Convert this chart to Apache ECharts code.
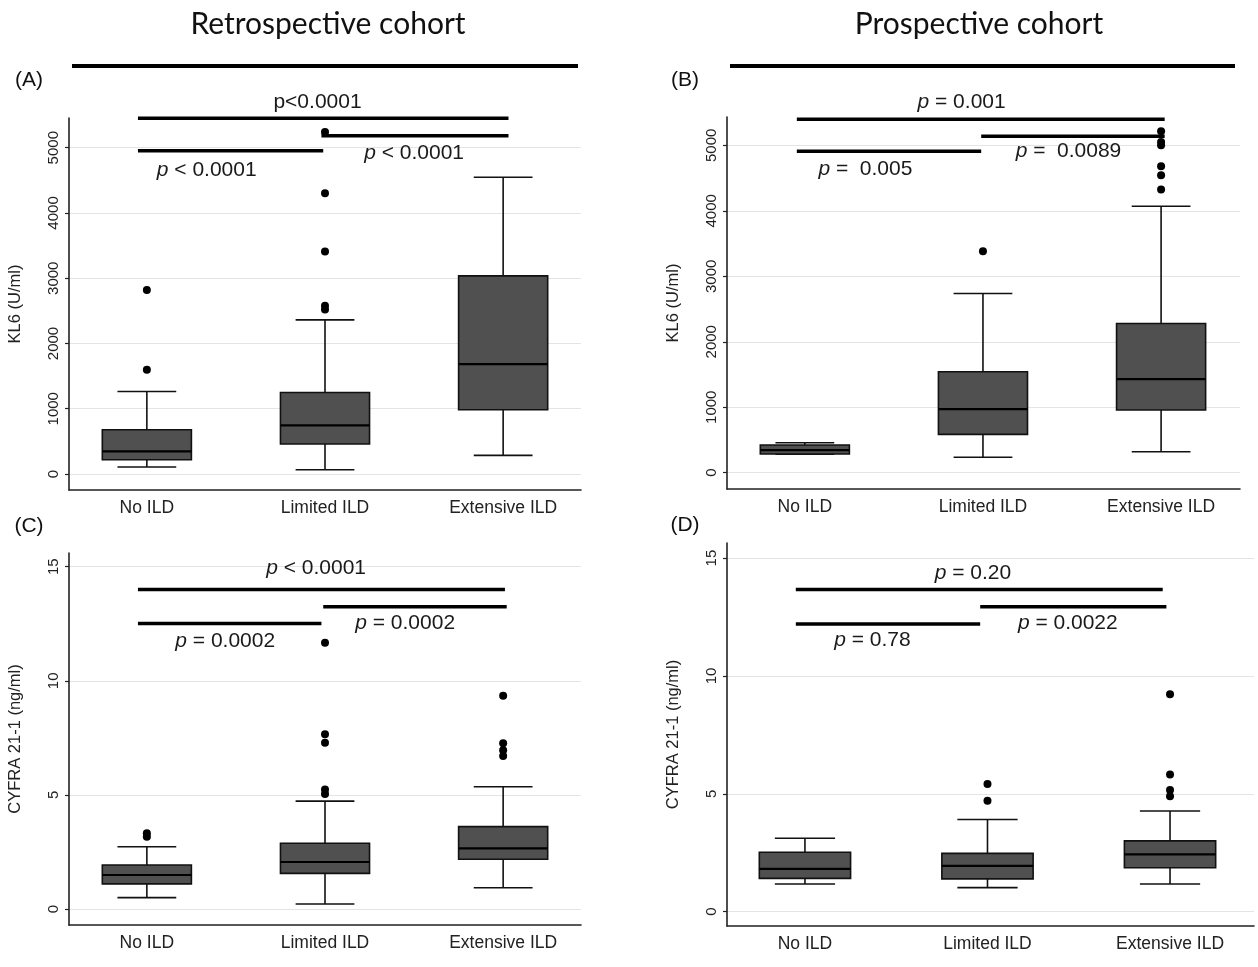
<!DOCTYPE html>
<html>
<head>
<meta charset="utf-8">
<script src="https://cdn.jsdelivr.net/npm/echarts@6/dist/echarts.min.js"></script>
<style>html,body{margin:0;padding:0;background:#fff}#c{width:1258px;height:967px}</style>
</head>
<body>
<div id="c"></div>
<script>
// ---------- data ----------
const categories = ['No ILD', 'Limited ILD', 'Extensive ILD'];
const kl6TickValues = [0, 1000, 2000, 3000, 4000, 5000];
const cyfraTickValues = [0, 5, 10, 15];

// box stats: [min, Q1, median, Q3, max] per category
const kl6Retro = [[107, 219, 346, 678, 1265], [66, 459, 744, 1250, 2362], [285, 984, 1684, 3036, 4547]];
const kl6RetroOutliers = [[0, 2821], [0, 1597], [1, 5240], [1, 4302], [1, 3408], [1, 2580], [1, 2520]];

const kl6Pro = [[282, 285, 346, 423, 458], [235, 586, 972, 1541, 2738], [320, 957, 1430, 2280, 4070]];
const kl6ProOutliers = [[1, 3383], [2, 5214], [2, 5051], [2, 5000], [2, 4680], [2, 4543], [2, 4325]];

const cyfraRetro = [[0.50, 1.10, 1.49, 1.93, 2.73], [0.22, 1.56, 2.06, 2.88, 4.73], [0.93, 2.18, 2.66, 3.61, 5.36]];
const cyfraRetroOutliers = [[0, 3.32], [0, 3.17], [1, 11.67], [1, 7.66], [1, 7.29], [1, 5.24], [1, 5.04], [2, 9.34], [2, 7.26], [2, 6.96], [2, 6.70]];

const cyfraPro = [[1.17, 1.41, 1.81, 2.52, 3.11], [1.02, 1.39, 1.94, 2.47, 3.91], [1.17, 1.86, 2.43, 3.00, 4.27]];
const cyfraProOutliers = [[1, 5.41], [1, 4.70], [2, 9.22], [2, 5.82], [2, 5.16], [2, 4.90]];

// significance bars: [from, to, level]
const barsA = [[0.95, 3.03, 5450], [1.98, 3.03, 5184], [0.95, 1.99, 4954]];
const barsB = [[0.955, 3.02, 5398], [1.99, 3.02, 5138], [0.955, 1.99, 4909]];
const barsC = [[0.95, 3.01, 14.0], [1.99, 3.02, 13.24], [0.95, 1.98, 12.51]];
const barsD = [[0.95, 2.96, 13.67], [1.96, 2.98, 12.94], [0.95, 1.96, 12.2]];
// p-value labels: [x, y, text]
const pA = [[1.958, 5704, 'p<0.0001'], [1.336, 4659, '{i|p} < 0.0001'], [2.50, 4923, '{i|p} < 0.0001']];
const pB = [[1.88, 5662, '{i|p} = 0.001'], [1.34, 4630, '{i|p} =  0.005'], [2.48, 4914, '{i|p} =  0.0089']];
const pC = [[1.95, 14.92, '{i|p} < 0.0001'], [1.44, 11.75, '{i|p} = 0.0002'], [2.45, 12.51, '{i|p} = 0.0002']];
const pD = [[1.92, 14.34, '{i|p} = 0.20'], [1.37, 11.51, '{i|p} = 0.78'], [2.44, 12.25, '{i|p} = 0.0022']];

const panelTitles = ['Retrospective cohort', 'Prospective cohort'];
const panelLetters = ['(A)', '(B)', '(C)', '(D)'];
const yNames = ['KL6 (U/ml)', 'KL6 (U/ml)', 'CYFRA 21-1 (ng/ml)', 'CYFRA 21-1 (ng/ml)'];

// ---------- styling / layout ----------
const FONT = 'Liberation Sans, Arial, sans-serif';
const BOX_W = 0.5, CAP_W = 0.33;
const grids = [
  {left: 69, top: 118, width: 512, height: 372},
  {left: 727, top: 117, width: 513, height: 372},
  {left: 69, top: 553, width: 512, height: 372},
  {left: 727, top: 543, width: 527, height: 383}
];
const xRanges = [[0.563, 3.437], [0.563, 3.443], [0.563, 3.437], [0.573, 3.46]];
const yRanges = [[-245, 5455], [-249, 5433], [-0.70, 15.6], [-0.61, 15.64]];

const boxes = [kl6Retro, kl6Pro, cyfraRetro, cyfraPro];
const outliers = [kl6RetroOutliers, kl6ProOutliers, cyfraRetroOutliers, cyfraProOutliers];
const bars = [barsA, barsB, barsC, barsD];
const plabels = [pA, pB, pC, pD];
const ticks = [kl6TickValues, kl6TickValues, cyfraTickValues, cyfraTickValues];

function renderBox(params, api) {
  const x = api.value(0);
  const c = v => api.coord([x, v]);
  const pMin = c(api.value(1)), pQ1 = c(api.value(2)), pMed = c(api.value(3)), pQ3 = c(api.value(4)), pMax = c(api.value(5));
  const hb = api.size([BOX_W, 0])[0] / 2;
  const hc = api.size([CAP_W, 0])[0] / 2;
  const cx = pMed[0];
  const ls = {stroke: '#111', lineWidth: 1.6};
  return {type: 'group', children: [
    {type: 'line', shape: {x1: cx, y1: pQ3[1], x2: cx, y2: pMax[1]}, style: ls},
    {type: 'line', shape: {x1: cx, y1: pQ1[1], x2: cx, y2: pMin[1]}, style: ls},
    {type: 'line', shape: {x1: cx - hc, y1: pMax[1], x2: cx + hc, y2: pMax[1]}, style: ls},
    {type: 'line', shape: {x1: cx - hc, y1: pMin[1], x2: cx + hc, y2: pMin[1]}, style: ls},
    {type: 'rect', shape: {x: cx - hb, y: pQ3[1], width: 2 * hb, height: pQ1[1] - pQ3[1]}, style: {fill: '#505050', stroke: '#111', lineWidth: 1.6}},
    {type: 'line', shape: {x1: cx - hb, y1: pMed[1], x2: cx + hb, y2: pMed[1]}, style: {stroke: '#000', lineWidth: 2.2}}
  ]};
}
function renderBar(params, api) {
  const a = api.coord([api.value(0), api.value(2)]);
  const b = api.coord([api.value(1), api.value(2)]);
  return {type: 'line', shape: {x1: a[0], y1: a[1], x2: b[0], y2: b[1]}, style: {stroke: '#000', lineWidth: 3.5}};
}
function makeLabelRenderer(list) {
  return function (params, api) {
    const p = api.coord([api.value(0), api.value(1)]);
    return {type: 'text', x: p[0], y: p[1], style: {
      text: list[params.dataIndex][2], align: 'center', verticalAlign: 'middle',
      font: '21px ' + FONT, fill: '#1a1a1a',
      rich: {i: {fontStyle: 'italic', fontSize: 21, fontFamily: FONT, fill: '#1a1a1a'}}
    }};
  };
}

const option = {
  backgroundColor: '#fff',
  animation: false,
  grid: grids.map(g => Object.assign({containLabel: false}, g)),
  xAxis: grids.map((g, i) => ({
    type: 'value', gridIndex: i, min: xRanges[i][0], max: xRanges[i][1],
    axisLine: {show: true, onZero: false, lineStyle: {color: '#222', width: 1.6}},
    axisTick: {show: false},
    splitLine: {show: false},
    axisLabel: {customValues: [1, 2, 3], formatter: v => categories[Math.round(v) - 1], fontSize: 17.5, fontFamily: FONT, color: '#222', margin: 9}
  })),
  yAxis: grids.map((g, i) => ({
    type: 'value', gridIndex: i, min: yRanges[i][0], max: yRanges[i][1],
    axisLine: {show: true, onZero: false, lineStyle: {color: '#222', width: 1.6}},
    axisTick: {show: true, customValues: ticks[i], length: 4, lineStyle: {color: '#222', width: 1.2}},
    axisLabel: {customValues: ticks[i], formatter: v => String(v), rotate: 90, fontSize: 15, fontFamily: FONT, color: '#222', margin: 8},
    splitLine: {show: true, lineStyle: {color: '#e4e4e4', width: 1.2}},
    name: yNames[i], nameLocation: 'middle', nameGap: 45,
    nameTextStyle: {fontSize: 16.5, fontFamily: FONT, color: '#222'}
  })),
  series: [].concat(
    boxes.map((b, i) => ({
      type: 'custom', xAxisIndex: i, yAxisIndex: i, clip: false,
      encode: {x: 0, y: [1, 2, 3, 4, 5]},
      data: b.map((s, k) => [k + 1].concat(s)),
      renderItem: renderBox, z: 3
    })),
    outliers.map((o, i) => ({
      type: 'scatter', xAxisIndex: i, yAxisIndex: i, symbol: 'circle', symbolSize: 8,
      itemStyle: {color: '#000', opacity: 1}, data: o.map(d => [d[0] + 1, d[1]]), z: 4, silent: true
    })),
    bars.map((b, i) => ({
      type: 'custom', xAxisIndex: i, yAxisIndex: i, clip: false,
      encode: {x: [0, 1], y: 2}, data: b, renderItem: renderBar, z: 5
    })),
    plabels.map((p, i) => ({
      type: 'custom', xAxisIndex: i, yAxisIndex: i, clip: false,
      encode: {x: 0, y: 1}, data: p.map(d => [d[0], d[1]]), renderItem: makeLabelRenderer(p), z: 5
    }))
  ),
  graphic: [
    {type: 'text', x: 328, y: 24, style: {text: panelTitles[0], font: '30px Lato, "Open Sans", sans-serif', fill: '#111', align: 'center', verticalAlign: 'middle'}},
    {type: 'text', x: 979, y: 24, style: {text: panelTitles[1], font: '30px Lato, "Open Sans", sans-serif', fill: '#111', align: 'center', verticalAlign: 'middle'}},
    {type: 'line', shape: {x1: 72, y1: 66, x2: 578, y2: 66}, style: {stroke: '#000', lineWidth: 4}},
    {type: 'line', shape: {x1: 730, y1: 66, x2: 1235, y2: 66}, style: {stroke: '#000', lineWidth: 4}},
    {type: 'text', x: 29, y: 80, style: {text: panelLetters[0], font: '21px ' + FONT, fill: '#111', align: 'center', verticalAlign: 'middle'}},
    {type: 'text', x: 685, y: 80, style: {text: panelLetters[1], font: '21px ' + FONT, fill: '#111', align: 'center', verticalAlign: 'middle'}},
    {type: 'text', x: 29, y: 526, style: {text: panelLetters[2], font: '21px ' + FONT, fill: '#111', align: 'center', verticalAlign: 'middle'}},
    {type: 'text', x: 685, y: 525, style: {text: panelLetters[3], font: '21px ' + FONT, fill: '#111', align: 'center', verticalAlign: 'middle'}}
  ]
};
const chart = echarts.init(document.getElementById('c'), null, {renderer: 'canvas'});
chart.setOption(option);
</script>
</body>
</html>
